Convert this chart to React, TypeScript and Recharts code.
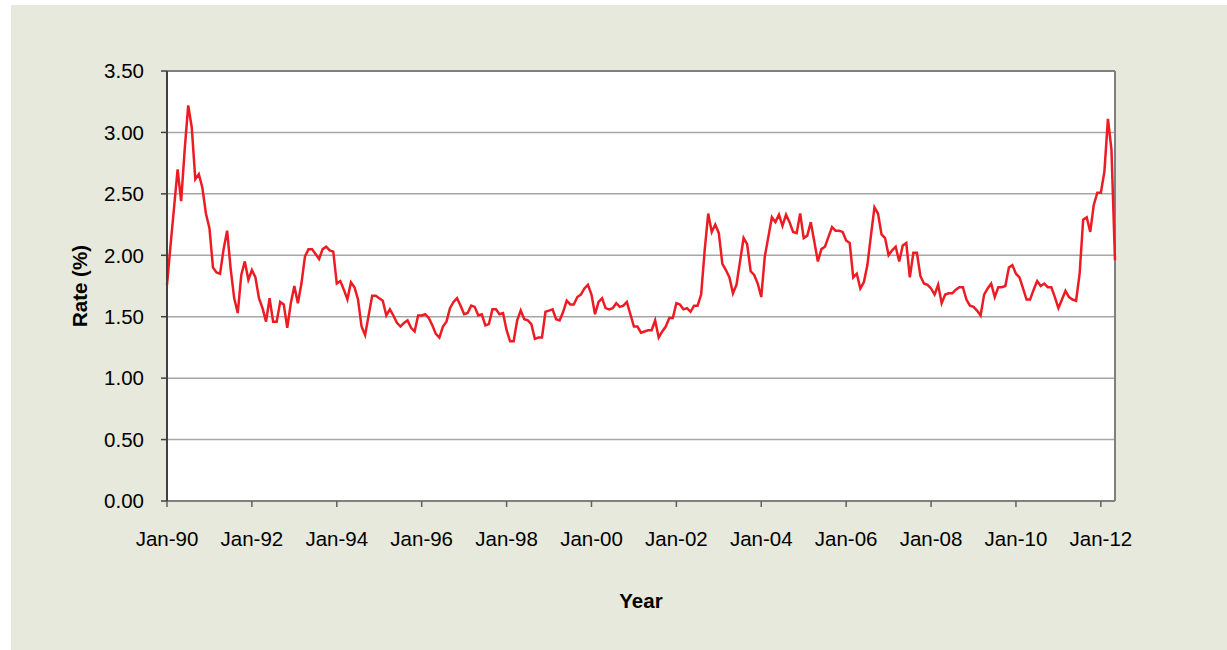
import React from 'react';
import { LineChart, Line, XAxis, YAxis, CartesianGrid, ReferenceLine, Label } from 'recharts';

// Monthly rate (%) from Jan-90 to May-12
const rates: number[] = [
  1.76, 2.08, 2.39, 2.70, 2.44, 2.86, 3.22, 3.04, 2.62, 2.66,
  2.55, 2.34, 2.22, 1.90, 1.86, 1.85, 2.05, 2.20, 1.89, 1.65,
  1.53, 1.84, 1.95, 1.80, 1.88, 1.82, 1.65, 1.57, 1.46, 1.65,
  1.46, 1.46, 1.62, 1.60, 1.41, 1.61, 1.75, 1.61, 1.77, 1.99,
  2.05, 2.05, 2.01, 1.97, 2.05, 2.07, 2.04, 2.03, 1.77, 1.79,
  1.72, 1.64, 1.78, 1.74, 1.64, 1.42, 1.35, 1.51, 1.67, 1.67,
  1.65, 1.63, 1.51, 1.56, 1.51, 1.45, 1.42, 1.45, 1.47, 1.41,
  1.38, 1.51, 1.51, 1.52, 1.49, 1.43, 1.36, 1.33, 1.42, 1.46,
  1.57, 1.62, 1.65, 1.59, 1.52, 1.53, 1.59, 1.58, 1.51, 1.52,
  1.43, 1.44, 1.56, 1.56, 1.52, 1.53, 1.39, 1.30, 1.30, 1.47,
  1.55, 1.48, 1.47, 1.44, 1.32, 1.33, 1.33, 1.54, 1.55, 1.56,
  1.48, 1.47, 1.54, 1.63, 1.60, 1.60, 1.66, 1.68, 1.73, 1.76,
  1.68, 1.52, 1.62, 1.65, 1.57, 1.56, 1.57, 1.61, 1.58, 1.59,
  1.62, 1.52, 1.42, 1.42, 1.37, 1.38, 1.39, 1.39, 1.47, 1.33,
  1.38, 1.42, 1.49, 1.49, 1.61, 1.60, 1.56, 1.57, 1.54, 1.59,
  1.59, 1.68, 2.04, 2.34, 2.19, 2.25, 2.18, 1.93, 1.88, 1.82,
  1.69, 1.76, 1.95, 2.14, 2.09, 1.87, 1.84, 1.77, 1.66, 1.99,
  2.15, 2.31, 2.27, 2.33, 2.24, 2.33, 2.27, 2.19, 2.18, 2.34,
  2.14, 2.16, 2.27, 2.11, 1.95, 2.05, 2.07, 2.15, 2.23, 2.20,
  2.20, 2.19, 2.12, 2.10, 1.82, 1.85, 1.73, 1.78, 1.92, 2.16,
  2.39, 2.34, 2.17, 2.14, 2.00, 2.04, 2.07, 1.95, 2.08, 2.10,
  1.82, 2.02, 2.02, 1.83, 1.77, 1.76, 1.73, 1.68, 1.76, 1.61,
  1.68, 1.69, 1.69, 1.72, 1.74, 1.74, 1.64, 1.59, 1.58, 1.55,
  1.51, 1.68, 1.73, 1.77, 1.66, 1.74, 1.74, 1.75, 1.90, 1.92,
  1.85, 1.82, 1.73, 1.64, 1.64, 1.72, 1.79, 1.75, 1.77, 1.74,
  1.74, 1.66, 1.57, 1.64, 1.71, 1.66, 1.64, 1.63, 1.85, 2.29,
  2.31, 2.19, 2.41, 2.51, 2.51, 2.68, 3.11, 2.86, 1.96,
];

const tickLabels: string[] = [
  'Jan-90', 'Jan-92', 'Jan-94', 'Jan-96', 'Jan-98', 'Jan-00',
  'Jan-02', 'Jan-04', 'Jan-06', 'Jan-08', 'Jan-10', 'Jan-12',
];
const monthsPerTick = 24;
const yTicks: number[] = [0, 0.5, 1, 1.5, 2, 2.5, 3, 3.5];

const data = rates.map((rate, m) => ({ m, rate }));
const xTicks = tickLabels.map((_, i) => i * monthsPerTick);

const FONT = '"Liberation Sans", Arial, sans-serif';

export default function App() {
  return (
    <div
      style={{
        position: 'absolute',
        left: 11,
        top: 5,
        width: 1216,
        height: 645,
        background: '#e6e9dc',
        fontFamily: FONT,
      }}
    >
      <LineChart
        width={1216}
        height={645}
        data={data}
        margin={{ top: 66, right: 112, bottom: 119, left: 56 }}
        style={{ fontFamily: FONT }}
      >
        <CartesianGrid vertical={false} stroke="#a6a6a6" strokeWidth={1.5} fill="#ffffff" />
        <XAxis
          dataKey="m"
          type="number"
          domain={[0, rates.length - 1]}
          ticks={xTicks}
          tickFormatter={(v: number) => tickLabels[Math.round(v / monthsPerTick)]}
          interval={0}
          height={30}
          tickSize={6}
          tickMargin={24}
          stroke="#808080"
          axisLine={{ stroke: '#808080', strokeWidth: 2 }}
          tickLine={{ stroke: '#606060', strokeWidth: 1.5 }}
          tick={{ fill: '#000', fontSize: 20.5, fontFamily: FONT }}
        >
          <Label
            value="Year"
            position="bottom"
            offset={62}
            style={{ fontWeight: 'bold', fontSize: 20.5, fill: '#000', fontFamily: FONT }}
          />
        </XAxis>
        <YAxis
          type="number"
          domain={[0, 3.5]}
          ticks={yTicks}
          interval={0}
          width={100}
          tickSize={6}
          tickMargin={17}
          tickFormatter={(v: number) => v.toFixed(2)}
          axisLine={{ stroke: '#404040', strokeWidth: 2 }}
          tickLine={{ stroke: '#404040', strokeWidth: 1.5 }}
          tick={{ fill: '#000', fontSize: 20.5, fontFamily: FONT }}
        >
          <Label
            value="Rate (%)"
            angle={-90}
            position="insideLeft"
            offset={13}
            style={{ textAnchor: 'middle', fontWeight: 'bold', fontSize: 20.5, fill: '#000', fontFamily: FONT }}
          />
        </YAxis>
        <ReferenceLine y={3.5} stroke="#808080" strokeWidth={2} />
        <ReferenceLine x={rates.length - 1} stroke="#808080" strokeWidth={2} />
        <Line
          type="linear"
          dataKey="rate"
          stroke="#ed1c24"
          strokeWidth={2.5}
          dot={false}
          isAnimationActive={false}
        />
      </LineChart>
    </div>
  );
}
